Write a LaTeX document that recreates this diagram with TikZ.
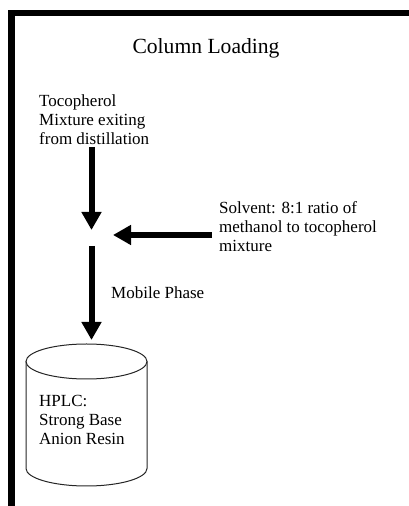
\documentclass[tikz,border=0pt]{standalone}
\usepackage{fontspec}
\setmainfont{Liberation Serif}
\usetikzlibrary{arrows.meta}

\tikzset{
  body/.style={font=\rmfamily\fontsize{17}{19}\selectfont, align=left, inner sep=0pt, anchor=north west},
  flow/.style={line width=6pt, -{Triangle[length=18pt,width=19pt]}},
  vessel/.style={draw=black!85, line width=1pt},
}

\begin{document}
\begin{tikzpicture}[x=1pt,y=1pt]
  \useasboundingbox (0,0) rectangle (409,506);

  % frame: heavy left and top rules
  \draw[line width=6.5pt, line join=miter] (11.5,0) -- (11.5,493) -- (409,493);

  % title
  \node[font=\rmfamily\fontsize{21.6}{25}\selectfont, inner sep=0pt] (title) at (206,458) {Column Loading};

  % feed and solvent descriptions
  \node[body] (feed) at (39,411.8) {Tocopherol\\Mixture exiting\\from distillation};
  \node[body] (solvent) at (219,304.8) {Solvent: 8:1 ratio of\\methanol to tocopherol\\mixture};
  \node[body] (mobile) at (111,219.8) {Mobile Phase};

  % column vessel
  \draw[vessel] (26,144.5) -- (26,37.5)
    arc[start angle=180, end angle=360, x radius=60.5pt, y radius=17.5pt] -- (147,144.5);
  \draw[vessel] (86.5,144.5) ellipse [x radius=60.5pt, y radius=17.5pt];
  \node[body] (hplc) at (39,110.8) {HPLC:\\Strong Base\\Anion Resin};

  % flow arrows
  \coordinate (feedout) at (91.5,359);
  \coordinate (mixin) at (91.5,276);
  \coordinate (solvout) at (212,271);
  \coordinate (solvin) at (113,271);
  \coordinate (mixout) at (91.5,260);
  \coordinate (colin) at (91.5,166);
  \draw[flow] (feedout) -- (mixin);
  \draw[flow] (solvout) -- (solvin);
  \draw[flow] (mixout) -- (colin);
\end{tikzpicture}
\end{document}
